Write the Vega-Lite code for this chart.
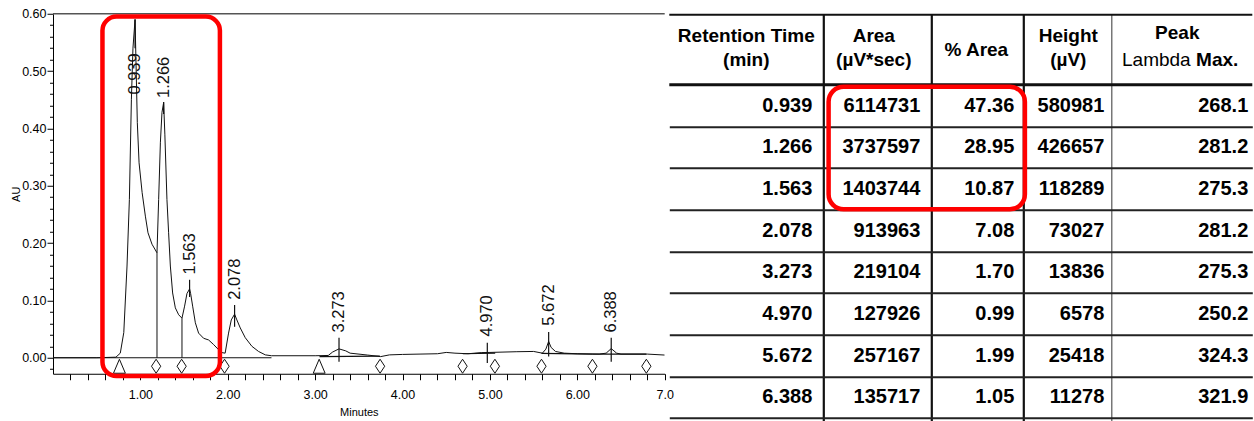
{
  "$schema": "https://vega.github.io/schema/vega-lite/v6.json",
  "usermeta": {"embedOptions": {"actions": false}},
  "background": "white",
  "padding": {"left": 10, "top": 7.75, "right": 0, "bottom": 0},
  "autosize": {"type": "pad"},
  "bounds": "flush",
  "spacing": 4.3,
  "config": {"view": {"stroke": null}, "axis": {"labelOverlap": false}},
  "datasets": {
    "trace": [
      {"t":0,"au":0},{"t":0.5,"au":0},{"t":0.72,"au":0.001},{"t":0.77,"au":0.008},{"t":0.81,"au":0.044},{"t":0.847,"au":0.16},{"t":0.874,"au":0.276},{"t":0.897,"au":0.45},{"t":0.915,"au":0.54},{"t":0.939,"au":0.59},{"t":0.952,"au":0.5},{"t":0.965,"au":0.41},{"t":0.985,"au":0.34},{"t":1.02,"au":0.288},{"t":1.057,"au":0.247},{"t":1.087,"au":0.218},{"t":1.133,"au":0.198},{"t":1.19,"au":0.183},{"t":1.209,"au":0.276},{"t":1.229,"au":0.376},{"t":1.247,"au":0.428},{"t":1.266,"au":0.445},{"t":1.28,"au":0.39},{"t":1.304,"au":0.276},{"t":1.323,"au":0.218},{"t":1.343,"au":0.16},{"t":1.369,"au":0.113},{"t":1.4,"au":0.087},{"t":1.438,"au":0.075},{"t":1.476,"au":0.069},{"t":1.506,"au":0.09},{"t":1.533,"au":0.112},{"t":1.563,"au":0.12},{"t":1.575,"au":0.112},{"t":1.598,"au":0.09},{"t":1.629,"au":0.061},{"t":1.666,"au":0.043},{"t":1.723,"au":0.034},{"t":1.781,"au":0.031},{"t":1.838,"au":0.023},{"t":1.895,"au":0.014},{"t":1.933,"au":0.009},{"t":1.97,"au":0.008},{"t":2.009,"au":0.043},{"t":2.04,"au":0.066},{"t":2.078,"au":0.076},{"t":2.104,"au":0.066},{"t":2.143,"au":0.052},{"t":2.2,"au":0.035},{"t":2.276,"au":0.02},{"t":2.352,"au":0.011},{"t":2.43,"au":0.005},{"t":2.5,"au":0.0035},{"t":3.0,"au":0.0035},{"t":3.15,"au":0.004},{"t":3.2,"au":0.01},{"t":3.273,"au":0.0155},{"t":3.35,"au":0.012},{"t":3.4,"au":0.008},{"t":3.6,"au":0.0047},{"t":3.75,"au":0.002},{"t":3.85,"au":0.005},{"t":4.0,"au":0.0058},{"t":4.2,"au":0.0064},{"t":4.4,"au":0.007},{"t":4.5,"au":0.0093},{"t":4.6,"au":0.008},{"t":4.75,"au":0.007},{"t":4.9,"au":0.009},{"t":5.0,"au":0.0093},{"t":5.3,"au":0.0105},{"t":5.5,"au":0.011},{"t":5.6,"au":0.008},{"t":5.64,"au":0.015},{"t":5.672,"au":0.0285},{"t":5.7,"au":0.018},{"t":5.75,"au":0.011},{"t":5.85,"au":0.008},{"t":6.0,"au":0.007},{"t":6.25,"au":0.0064},{"t":6.33,"au":0.008},{"t":6.388,"au":0.016},{"t":6.45,"au":0.008},{"t":6.5,"au":0.0064},{"t":6.8,"au":0.0064},{"t":7.0,"au":0.0047}
    ],
    "peaks": [
      {"row":0,"rt":0.939,"area":6114731,"pct":47.36,"height":580981,"lambda":268.1},
      {"row":1,"rt":1.266,"area":3737597,"pct":28.95,"height":426657,"lambda":281.2},
      {"row":2,"rt":1.563,"area":1403744,"pct":10.87,"height":118289,"lambda":275.3},
      {"row":3,"rt":2.078,"area":913963,"pct":7.08,"height":73027,"lambda":281.2},
      {"row":4,"rt":3.273,"area":219104,"pct":1.70,"height":13836,"lambda":275.3},
      {"row":5,"rt":4.970,"area":127926,"pct":0.99,"height":6578,"lambda":250.2},
      {"row":6,"rt":5.672,"area":257167,"pct":1.99,"height":25418,"lambda":324.3},
      {"row":7,"rt":6.388,"area":135717,"pct":1.05,"height":11278,"lambda":321.9}
    ],
    "labels": [
      {"rt":0.939,"au":0.459},{"rt":1.266,"au":0.453},{"rt":1.563,"au":0.145},{"rt":2.078,"au":0.101},
      {"rt":3.273,"au":0.044},{"rt":4.970,"au":0.037},{"rt":5.672,"au":0.056},{"rt":6.388,"au":0.044}
    ],
    "apex": [
      {"rt":0.939,"lo":0.54,"hi":0.59},{"rt":1.266,"lo":0.425,"hi":0.446},{"rt":1.563,"lo":0.106,"hi":0.136},{"rt":2.078,"lo":0.054,"hi":0.092},
      {"rt":3.273,"lo":-0.007,"hi":0.035},{"rt":4.970,"lo":-0.009,"hi":0.026},{"rt":5.672,"lo":0.002,"hi":0.045},{"rt":6.388,"lo":-0.007,"hi":0.035}
    ],
    "drops": [{"t":1.19,"lo":0,"hi":0.183},{"t":1.476,"lo":0,"hi":0.069}],
    "baselines": [
      {"t":0,"t2":2.5,"a":0,"a2":0},{"t":3.05,"t2":3.74,"a":0.002,"a2":0.003},{"t":4.69,"t2":5.06,"a":0.007,"a2":0.008},
      {"t":5.59,"t2":6.17,"a":0.0075,"a2":0.0065},{"t":6.17,"t2":6.79,"a":0.0065,"a2":0.0065}
    ],
    "markers": [
      {"t":0.76,"kind":"start"},{"t":1.18,"kind":"drop"},{"t":1.472,"kind":"drop"},{"t":1.963,"kind":"drop"},{"t":3.046,"kind":"start"},
      {"t":3.743,"kind":"drop"},{"t":4.687,"kind":"drop"},{"t":5.057,"kind":"drop"},{"t":5.59,"kind":"drop"},{"t":6.173,"kind":"drop"},{"t":6.79,"kind":"drop"}
    ]
  },
  "hconcat": [
    {
      "width": 611.7,
      "height": 360,
      "layer": [
        {
          "data": {"name": "trace"},
          "mark": {"type": "line", "color": "#111", "strokeWidth": 1, "clip": true},
          "encoding": {
            "x": {"field": "t", "type": "quantitative",
              "scale": {"domain": [0, 7], "nice": false, "zero": false},
              "axis": {
                "title": "Minutes", "titleFont": "Liberation Sans", "titleFontSize": 11, "titleFontWeight": "normal", "titleColor": "black", "titlePadding": 5,
                "values": [0.2,0.4,0.6,0.8,1,1.2,1.4,1.6,1.8,2,2.2,2.4,2.6,2.8,3,3.2,3.4,3.6,3.8,4,4.2,4.4,4.6,4.8,5,5.2,5.4,5.6,5.8,6,6.2,6.4,6.6,6.8,7],
                "tickCount": 1000,
                "labelExpr": "abs(datum.value - round(datum.value)) < 0.001 ? (datum.value > 6.9 ? '7.0' : format(datum.value, '.2f')) : ''",
                "labelFont": "Liberation Sans", "labelFontSize": 12.5, "labelColor": "black", "labelPadding": 9, "labelOverlap": false, "labelFlush": false,
                "tickSize": 6, "tickColor": "black", "domainColor": "black", "grid": false
              }
            },
            "y": {"field": "au", "type": "quantitative",
              "scale": {"domain": [-0.0279, 0.6], "nice": false, "zero": false},
              "axis": {
                "title": "AU", "titleFont": "Liberation Sans", "titleFontSize": 11, "titleFontWeight": "normal", "titleColor": "black", "titlePadding": 0.6,
                "values": [-0.02,0,0.02,0.04,0.06,0.08,0.1,0.12,0.14,0.16,0.18,0.2,0.22,0.24,0.26,0.28,0.3,0.32,0.34,0.36,0.38,0.4,0.42,0.44,0.46,0.48,0.5,0.52,0.54,0.56,0.58,0.6],
                "tickCount": 1000,
                "labelExpr": "abs(datum.value*10 - round(datum.value*10)) < 0.001 ? format(datum.value, '.2f') : ''",
                "tickSize": {"condition": {"test": "abs(datum.value*10 - round(datum.value*10)) < 0.001", "value": 6}, "value": 3.5},
                "labelFont": "Liberation Sans", "labelFontSize": 12.5, "labelColor": "black", "labelPadding": 1, "labelOverlap": false,
                "tickColor": "black", "domainColor": "black", "grid": false
              }
            }
          }
        },
        {
          "data": {"values": [{}]},
          "mark": {"type": "rule", "color": "#555", "strokeWidth": 1.5},
          "encoding": {"y": {"datum": 0.6}}
        },
        {
          "data": {"name": "baselines"},
          "mark": {"type": "rule", "color": "#111", "strokeWidth": 1.2},
          "encoding": {
            "x": {"field": "t", "type": "quantitative"}, "x2": {"field": "t2"},
            "y": {"field": "a", "type": "quantitative"}, "y2": {"field": "a2"}
          }
        },
        {
          "data": {"name": "drops"},
          "mark": {"type": "rule", "color": "#111", "strokeWidth": 1},
          "encoding": {
            "x": {"field": "t", "type": "quantitative"},
            "y": {"field": "lo", "type": "quantitative"}, "y2": {"field": "hi"}
          }
        },
        {
          "data": {"name": "apex"},
          "mark": {"type": "rule", "color": "#111", "strokeWidth": 1.2},
          "encoding": {
            "x": {"field": "rt", "type": "quantitative"},
            "y": {"field": "lo", "type": "quantitative"}, "y2": {"field": "hi"}
          }
        },
        {
          "data": {"name": "markers"},
          "mark": {"type": "point", "filled": false, "fill": "white", "fillOpacity": 1, "stroke": "#111", "strokeWidth": 1, "opacity": 1, "size": 196},
          "encoding": {
            "x": {"field": "t", "type": "quantitative"},
            "y": {"datum": -0.0148},
            "shape": {"field": "kind", "type": "nominal", "legend": null,
              "scale": {"domain": ["start", "drop"], "range": ["M0,-1L0.85,1L-0.85,1Z", "M0,-1L0.66,0L0,1L-0.66,0Z"]}}
          }
        },
        {
          "data": {"name": "labels"},
          "mark": {"type": "text", "angle": 270, "align": "left", "baseline": "middle", "font": "Liberation Sans", "fontSize": 16.5, "color": "#111"},
          "encoding": {
            "x": {"field": "rt", "type": "quantitative"},
            "y": {"field": "au", "type": "quantitative"},
            "text": {"field": "rt", "type": "quantitative", "format": ".3f"}
          }
        },
        {
          "data": {"values": [{}]},
          "mark": {"type": "rect", "fill": "transparent", "stroke": "#ff0000", "strokeWidth": 4.5, "cornerRadius": 14},
          "encoding": {
            "x": {"datum": 0.566}, "x2": {"datum": 1.91},
            "y": {"datum": 0.595}, "y2": {"datum": -0.0319}
          }
        }
      ]
    },
    {
      "width": 583,
      "height": 407,
      "data": {"name": "peaks"},
      "layer": [
        {
          "mark": {"type": "text", "align": "right", "baseline": "middle", "font": "Liberation Sans", "fontWeight": "bold", "fontSize": 20, "color": "black"},
          "encoding": {
            "x": {"datum": 143, "type": "quantitative",
              "scale": {"domain": [0, 583], "nice": false, "zero": false},
              "axis": {"values": [154, 262.3, 354, 441.7], "tickCount": 100, "grid": true,
                "gridColor": {"condition": {"test": "datum.value > 400", "value": "#555"}, "value": "#111"},
                "gridWidth": {"condition": {"test": "datum.value > 400", "value": 1.2}, "value": 2.2},
                "labels": false, "ticks": false, "domain": false, "title": null}
            },
            "y": {"field": "row", "type": "quantitative",
              "scale": {"domain": [-2.204, 7.565], "reverse": true, "nice": false, "zero": false},
              "axis": {"values": [0.5, 1.5, 2.5, 3.5, 4.5, 5.5, 6.5, 7.5], "tickCount": 100, "grid": true, "gridColor": "#222", "gridWidth": 2,
                "labels": false, "ticks": false, "domain": false, "title": null}
            },
            "text": {"field": "rt", "type": "quantitative", "format": ".3f"}
          }
        },
        {
          "mark": {"type": "text", "align": "right", "baseline": "middle", "font": "Liberation Sans", "fontWeight": "bold", "fontSize": 20, "color": "black"},
          "encoding": {
            "x": {"datum": 251}, "y": {"field": "row", "type": "quantitative"},
            "text": {"field": "area", "type": "quantitative", "format": "d"}
          }
        },
        {
          "mark": {"type": "text", "align": "right", "baseline": "middle", "font": "Liberation Sans", "fontWeight": "bold", "fontSize": 20, "color": "black"},
          "encoding": {
            "x": {"datum": 345}, "y": {"field": "row", "type": "quantitative"},
            "text": {"field": "pct", "type": "quantitative", "format": ".2f"}
          }
        },
        {
          "mark": {"type": "text", "align": "right", "baseline": "middle", "font": "Liberation Sans", "fontWeight": "bold", "fontSize": 20, "color": "black"},
          "encoding": {
            "x": {"datum": 435}, "y": {"field": "row", "type": "quantitative"},
            "text": {"field": "height", "type": "quantitative", "format": "d"}
          }
        },
        {
          "mark": {"type": "text", "align": "right", "baseline": "middle", "font": "Liberation Sans", "fontWeight": "bold", "fontSize": 20, "color": "black"},
          "encoding": {
            "x": {"datum": 579}, "y": {"field": "row", "type": "quantitative"},
            "text": {"field": "lambda", "type": "quantitative", "format": ".1f"}
          }
        },
        {
          "data": {"values": [{}]},
          "mark": {"type": "rule", "color": "#111", "strokeWidth": 2.2},
          "encoding": {"y": {"datum": -2.18}}
        },
        {
          "data": {"values": [{}]},
          "mark": {"type": "rule", "color": "#111", "strokeWidth": 3},
          "encoding": {"y": {"datum": -0.5}}
        },
        {
          "data": {"values": [{}]},
          "mark": {"type": "text", "text": ["Retention Time", "(min)"], "lineHeight": 24, "align": "center", "baseline": "middle", "font": "Liberation Sans", "fontWeight": "bold", "fontSize": 19, "color": "black"},
          "encoding": {"x": {"datum": 77}, "y": {"datum": -1.676}}
        },
        {
          "data": {"values": [{}]},
          "mark": {"type": "text", "text": ["Area", "(µV*sec)"], "lineHeight": 24, "align": "center", "baseline": "middle", "font": "Liberation Sans", "fontWeight": "bold", "fontSize": 19, "color": "black"},
          "encoding": {"x": {"datum": 204.5}, "y": {"datum": -1.676}}
        },
        {
          "data": {"values": [{}]},
          "mark": {"type": "text", "text": "% Area", "align": "center", "baseline": "middle", "font": "Liberation Sans", "fontWeight": "bold", "fontSize": 19, "color": "black"},
          "encoding": {"x": {"datum": 307}, "y": {"datum": -1.34}}
        },
        {
          "data": {"values": [{}]},
          "mark": {"type": "text", "text": ["Height", "(µV)"], "lineHeight": 24, "align": "center", "baseline": "middle", "font": "Liberation Sans", "fontWeight": "bold", "fontSize": 19, "color": "black"},
          "encoding": {"x": {"datum": 399}, "y": {"datum": -1.676}}
        },
        {
          "data": {"values": [{}]},
          "mark": {"type": "text", "text": "Peak", "align": "center", "baseline": "middle", "font": "Liberation Sans", "fontWeight": "bold", "fontSize": 19, "color": "black"},
          "encoding": {"x": {"datum": 508}, "y": {"datum": -1.748}}
        },
        {
          "data": {"values": [{}]},
          "mark": {"type": "text", "text": "Lambda", "align": "right", "baseline": "middle", "font": "Liberation Sans", "fontWeight": "normal", "fontSize": 19, "color": "black"},
          "encoding": {"x": {"datum": 521.4}, "y": {"datum": -1.1}}
        },
        {
          "data": {"values": [{}]},
          "mark": {"type": "text", "text": "Max.", "align": "left", "baseline": "middle", "font": "Liberation Sans", "fontWeight": "bold", "fontSize": 19, "color": "black"},
          "encoding": {"x": {"datum": 526.8}, "y": {"datum": -1.1}}
        },
        {
          "data": {"values": [{}]},
          "mark": {"type": "rect", "fill": "transparent", "stroke": "#ff0000", "strokeWidth": 4.5, "cornerRadius": 15},
          "encoding": {
            "x": {"datum": 159.3}, "x2": {"datum": 355.6},
            "y": {"datum": -0.452}, "y2": {"datum": 2.49}
          }
        }
      ]
    }
  ]
}
